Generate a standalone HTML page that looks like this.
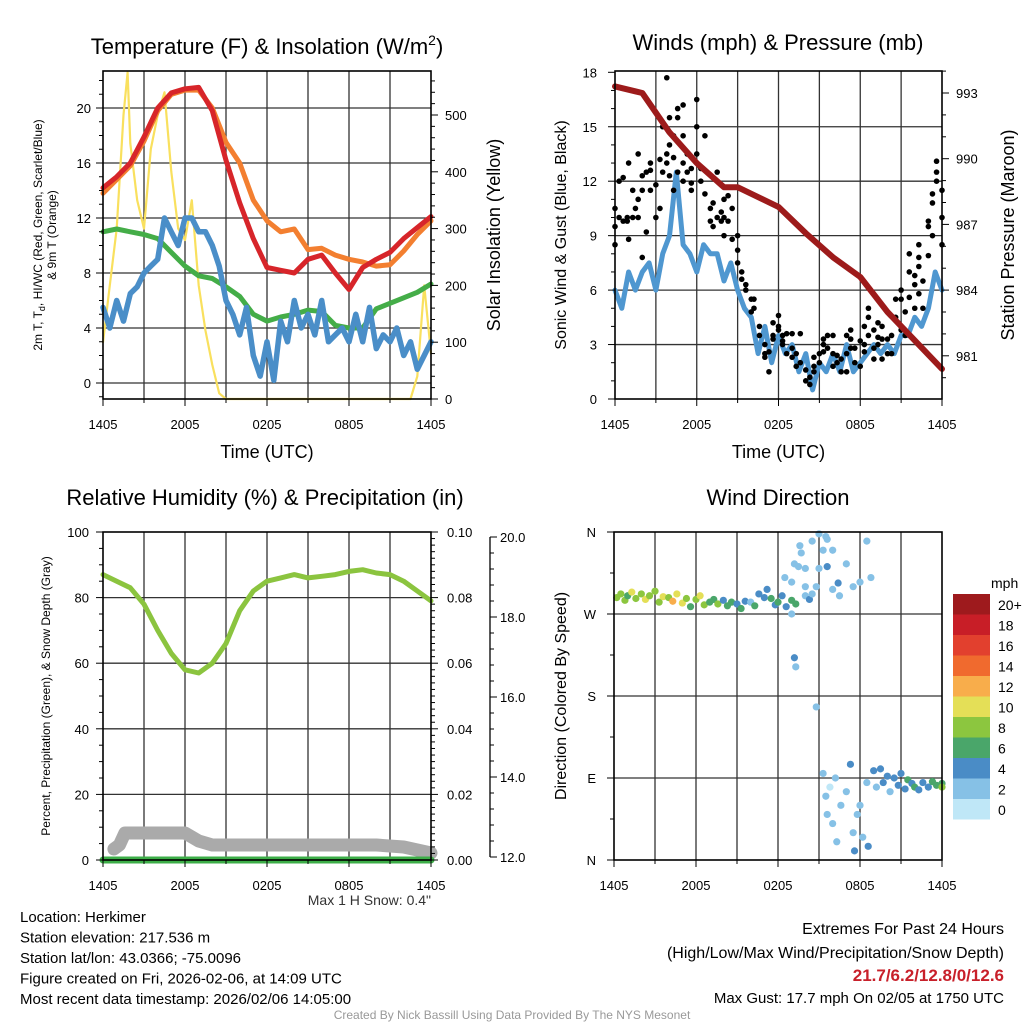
<!DOCTYPE html>
<html><head><meta charset="utf-8"><style>
body{margin:0;background:#fff}
svg text{font-family:"Liberation Sans",sans-serif;fill:#000}
</style></head><body>
<svg id="s" width="1024" height="1024" viewBox="0 0 1024 1024" xmlns="http://www.w3.org/2000/svg"></svg>
<script>
// ---------- DATA ----------
const hrs = [0,1,2,3,4,5,6,7,8,9,10,11,12,13,14,15,16,17,18,19,20,21,22,23,24];
const tempRed = [14.2,15,16,17.9,20,21.1,21.4,21.5,19.8,16.2,13.1,10.5,8.4,8.2,8,9,9.3,8,6.8,8.4,9,9.5,10.5,11.3,12.1];
const tempOrange = [13.8,14.8,15.8,17.6,19.8,21,21.3,21.3,20,17.5,16,13.3,11.8,11,11.2,9.7,9.8,9.3,9,8.8,8.5,8.6,9.6,10.8,11.8];
const tempGreen = [11,11.2,11,10.8,10.5,9.5,8.5,7.8,7.6,7,6.3,5,4.5,4.8,5,5.3,5.2,4.2,4,4,5.4,5.8,6.2,6.6,7.2];
const halfHrs = [0,0.5,1,1.5,2,2.5,3,3.5,4,4.5,5,5.5,6,6.5,7,7.5,8,8.5,9,9.5,10,10.5,11,11.5,12,12.5,13,13.5,14,14.5,15,15.5,16,16.5,17,17.5,18,18.5,19,19.5,20,20.5,21,21.5,22,22.5,23,23.5,24];
const tempBlue = [5.5,4,6,4.5,6.5,7,8,8.5,9,12,11,10,12,12,11,11,10,8.5,6,5,3.5,5.5,2,0.5,3,0.2,4.5,3,6,4,5,3.5,6,3,3.5,4,3,5,3,5.5,2.5,3.5,3,4,2,3,1,2,3];
const solarT = [0,0.5,1,1.5,1.8,2,2.5,3,3.5,4,4.5,5,5.5,6,6.5,7,7.5,8,8.5,9,22.5,23,23.5,24];
const solarV = [100,200,300,500,575,450,350,300,440,500,540,400,300,280,350,200,120,60,10,0,0,40,200,80];
const pressHrs = [0,2,4,6,8,9,12,14,16,18,20,22,24];
const pressure = [993.3,993,991.2,989.8,988.7,988.7,987.8,986.6,985.5,984.6,983,981.7,980.4];
const windV = [6,5,7,6,7,7.5,6,8,9,12.5,8.5,8,7,8.5,8,8,6.5,7.5,6,5,4.5,2.5,4,2,3.5,2.5,3,1.5,2.5,0.5,2,1.5,2.5,1.5,3,1.5,2,2.5,3,2.5,3,2.5,3.5,3.5,4.5,4,5,7,6];
const gustT = [0,0,0,0.3,0.3,0.6,0.6,0.9,0.9,1,1,1.3,1.3,1.5,1.7,1.7,1.7,2,2,2,2.3,2.3,2.6,2.6,2.6,3,3,3.3,3.3,3.5,3.5,3.8,3.8,3.8,4,4,4,4.3,4.3,4.3,4.6,4.6,4.6,5,5,5,5,5.3,5.3,5.6,5.6,5.6,6,6,6,6.3,6.3,6.6,6.6,7,7,7.2,7.2,7.5,7.5,7.8,7.8,8,8,8,8.3,8.3,8.6,8.6,9,9,9,9.3,9.3,9.6,9.6,10,10,10.2,10.2,10.6,10.6,11,11,11,11.3,11.3,11.6,11.6,11.6,12,12,12,12.3,12.3,12.3,12.6,12.6,13,13,13,13.3,13.3,13.6,13.6,14,14,14.3,14.3,14.6,14.6,14.6,15,15,15.3,15.3,15.3,15.6,15.6,16,16,16,16.3,16.3,16.6,16.6,17,17,17,17.3,17.3,17.3,17.6,17.6,18,18,18.3,18.3,18.3,18.6,18.6,18.6,19,19,19,19.3,19.3,19.3,19.6,19.6,19.6,20,20,20.3,20.3,20.6,20.6,21,21,21,21.3,21.3,21.6,21.6,21.6,22,22,22,22.3,22.3,22.3,22.3,22.6,22.6,23,23,23,23.3,23.3,23.3,23.6,23.6,23.6,24,24,24];
const gustV = [8.5,9.5,10.5,10,12,9.8,12.2,10,9.8,8.8,13,11.5,10,10.5,11,13.5,10,11.5,7.8,12.3,12.5,9.2,11.5,12.6,13,10,11.8,10.5,13.2,12.5,15,13.5,13,17.7,14,15.5,12.3,13.3,11.5,14.5,15.5,12.5,16,13,14.5,12,16.2,12.5,13.5,11.5,12.7,11.9,13.5,16.5,15,12.7,12,14.5,11.3,9.8,10.5,10.8,9.5,10,12.5,9.8,10.3,9,11,10,11.2,9.8,8.8,10.5,9,8.2,7.5,7,6.6,6,6.3,5.5,4.8,5.5,5,4,3.5,2.5,3,2.3,2.6,1.5,3.5,4.2,3.3,4,4.6,3.8,3,3.5,3.2,2.5,3.6,2.3,3.6,2.8,2.5,1.8,2,3.6,1.6,1,0.8,1.2,1.5,2.3,1.8,2,2.5,2.6,3,3.3,2.8,3.5,2.5,1.8,3.5,2.4,2,1.5,2.2,3.5,2.5,1.5,2.8,3.8,3.3,2,2.8,1.8,3.2,3,4,2.6,5,3.5,4.5,2.8,3.8,2.2,4.2,3.4,3,2.2,3.3,4,3.3,2.5,3.5,2.5,4.5,5.5,6,3.8,5.5,4.8,3.5,7,5.6,8,6.3,5,6.8,7.8,8.5,5.8,7.3,6.5,5,9.5,7.9,9.8,9,11.3,10.8,12.5,13.1,12,10,8.5,11.5];
const rhV = [87,85,83,78,70,63,58,57,60,66,76,82,85,86,87,86,86.5,87,88,88.5,87.5,87,85,82,79];
const snowT = [0.8,1.2,1.6,2,6,7,8,12,16,20,22,24];
const snowV = [12.2,12.3,12.6,12.6,12.6,12.4,12.3,12.3,12.3,12.3,12.25,12.1];
const precipV = [0,0];
const wdT = [0.2,0.5,0.8,1,1.3,1.6,2,2.3,2.6,3,3.3,3.6,4,4.3,4.6,5,5.3,5.6,6,6.3,6.6,7,7.3,7.6,8,8.3,8.6,9,9.3,9.6,10,10.3,10.6,11,11.2,11.5,11.8,12,12.3,12.6,13,13.3,13,13.5,13.7,14,14,14.3,13.2,13.3,14.5,15,15.3,15.6,15.6,16,16.4,12.5,13,13.2,13.6,14,14.5,14.8,15,15.5,16,16.5,17,17.5,18,18.5,18.8,15.3,15.5,15.6,15.8,16,16.2,16.3,16.6,17,17.3,17.5,17.6,17.8,18,18.2,18.5,18.6,19,19.2,19.5,19.7,20,20.2,20.5,20.8,21,21.3,21.5,21.8,22,22.3,22.6,23,23.3,23.6,24,24,14.8];
const wdDir = [288,292,285,290,294,287,292,286,290,295,283,289,288,284,292,282,287,278,286,290,280,283,286,281,285,279,283,281,276,284,283,279,292,288,297,287,280,283,290,278,285,281,270,322,337,300,290,286,222,212,350,358,340,352,322,297,304,310,305,325,345,320,292,300,320,355,340,290,325,300,305,350,310,95,70,50,80,40,90,20,60,75,105,30,10,50,60,25,85,15,98,80,100,85,92,75,90,82,95,78,88,84,80,77,85,80,86,82,84,80,168];
const wdSpd = [8,7,8,6,9,8,8,10,7,8,7,9,8,11,9,10,8,6,7,9,8,6,5,7,4,5,6,4,5,3,2,5,4,3,4,5,4,5,3,4,5,5,2,1,2,1,2,3,3,2,1,2,1,1,3,2,3,1,2,1,1,2,2,1,1,2,1,2,1,1,2,1,2,1,2,1,0,2,1,1,2,1,3,2,3,2,1,1,2,3,3,2,4,3,4,2,4,3,4,4,5,4,5,3,4,4,5,6,5,7,1];
const speedLabels = ["0","2","4","6","8","10","12","14","16","18","20+"];
const speedColors = ["#bfe7f7","#86c1e6","#4a8cc6","#4aa66a","#8cc63f","#e4df57","#f8ad4b","#f06a2e","#e2402e","#c81e27","#9e1a1d"];

// ---------- HELPERS ----------
const S = document.getElementById('s');
const NS = 'http://www.w3.org/2000/svg';
function mk(tag, attrs, parent){const e=document.createElementNS(NS,tag);for(const k in attrs)e.setAttribute(k,attrs[k]);(parent||S).appendChild(e);return e;}
function txt(x,y,s,size,anchor,extra){const e=mk('text',Object.assign({x:x,y:y,'font-size':size,'text-anchor':anchor||'start'},extra||{}));e.textContent=s;return e;}
function poly(xs,ys,fx,fy,color,w){const pts=xs.map((t,i)=>fx(t).toFixed(1)+','+fy(ys[i]).toFixed(1)).join(' ');return mk('polyline',{points:pts,fill:'none',stroke:color,'stroke-width':w,'stroke-linejoin':'round','stroke-linecap':'round'});}
function grid(L,T,R,B,ys){
  for(let k=1;k<8;k++){const x=L+(R-L)*k/8;mk('line',{x1:x,y1:T,x2:x,y2:B,stroke:'#333','stroke-width':1.3});}
  ys.forEach(y=>mk('line',{x1:L,y1:y,x2:R,y2:y,stroke:'#333','stroke-width':1.3}));
}
function frame(L,T,R,B,name){const r=mk('rect',{x:L,y:T,width:R-L,height:B-T,fill:'none',stroke:'#000','stroke-width':1.6});}
function xaxis(L,R,B,withTitle){
  const lbl=['1405','2005','0205','0805','1405'];
  for(let k=0;k<=8;k++){const x=L+(R-L)*k/8;mk('line',{x1:x,y1:B,x2:x,y2:B+(k%2?4:7),stroke:'#000'});}
  lbl.forEach((s,i)=>{const t=txt(L+(R-L)*i/4,B+30,s,13,'middle');});
  if(withTitle){const t=txt((L+R)/2,B+59,'Time (UTC)',18,'middle');}
}
function vlabel(x,y,s,size,name){const t=txt(x,y,s,size,'middle',{transform:'rotate(-90 '+x+' '+y+')'});return t;}

// ---------- PANEL 1 ----------
{
const L=103,T=71,R=431,B=399;
const fx=t=>L+(R-L)*t/24, fy=v=>383-v*13.75, fs=w=>399-w*0.568;
grid(L,T,R,B,[0,4,8,12,16,20].map(fy));
let l;
l=poly(solarT,solarV,fx,fs,'#f9e05e',2.2);
l=poly(hrs,tempGreen,fx,fy,'#44ad48',5);
l=poly(halfHrs,tempBlue,fx,fy,'#4a8ec8',5.5);
l=poly(hrs,tempOrange,fx,fy,'#f37f30',5);
l=poly(hrs,tempRed,fx,fy,'#d7252a',5);
frame(L,T,R,B,'temperature-plot-frame');
for(let v=-1;v<=22;v++){mk('line',{x1:L-(v%4==0?7:4),y1:fy(v),x2:L,y2:fy(v),stroke:'#000'});}
[0,4,8,12,16,20].forEach(v=>{const t=txt(L-12,fy(v)+5,String(v),13,'end');});
for(let w=0;w<=560;w+=20){mk('line',{x1:R,y1:fs(w),x2:R+(w%100==0?7:4),y2:fs(w),stroke:'#000'});}
[0,100,200,300,400,500].forEach(w=>{const t=txt(R+14,fs(w)+5,String(w),13,'start');});
xaxis(L,R,B,true);
const tt=mk('text',{x:267,y:54,'font-size':22,'text-anchor':'middle'});tt.innerHTML='Temperature (F) &amp; Insolation (W/m<tspan dy="-9" font-size="14">2</tspan><tspan dy="9">)</tspan>';

const a=mk('text',{x:0,y:0,'font-size':12,'text-anchor':'middle',transform:'translate(42 235) rotate(-90)'});a.innerHTML='2m T, T<tspan dy="3" font-size="9">d</tspan><tspan dy="-3">, HI/WC (Red, Green, Scarlet/Blue)</tspan>';

const a2=txt(0,0,'& 9m T (Orange)',12,'middle',{transform:'translate(56 235) rotate(-90)'});
vlabel(500,235,'Solar Insolation (Yellow)',18,'y2-axis-title');
}

// ---------- PANEL 2 ----------
{
const L=615,T=71,R=942,B=399;
const fx=t=>L+(R-L)*t/24, fy=v=>399-v*18.15, fp=p=>93+(993-p)*21.9;
grid(L,T,R,B,[3,6,9,12,15].map(fy));
let l=poly(halfHrs,windV,fx,fy,'#4f97d0',5);
gustT.forEach((t,i)=>{const c=mk('circle',{cx:fx(t),cy:fy(gustV[i]),r:2.8,fill:'#000'});});
l=poly(pressHrs,pressure,fx,fp,'#9d1b1b',6);
frame(L,T,R,B,'winds-plot-frame');
for(let v=0;v<=18;v++){mk('line',{x1:L-(v%3==0?7:4),y1:fy(v),x2:L,y2:fy(v),stroke:'#000'});}
[0,3,6,9,12,15,18].forEach(v=>{const t=txt(L-18,fy(v)+5,String(v),13,'end');});
for(let p=980;p<=994;p++){if(fp(p)<T||fp(p)>B)continue;mk('line',{x1:R,y1:fp(p),x2:R+(p%3==0?7:4),y2:fp(p),stroke:'#000'});}
[981,984,987,990,993].forEach(p=>{const t=txt(R+14,fp(p)+5,String(p),13,'start');});
xaxis(L,R,B,true);
const tt=txt(778,50,'Winds (mph) & Pressure (mb)',22,'middle');
vlabel(566,235,'Sonic Wind & Gust (Blue, Black)',16,'y-axis-title');
vlabel(1014,235,'Station Pressure (Maroon)',18,'y2-axis-title');
}

// ---------- PANEL 3 ----------
{
const L=103,T=532,R=431,B=860;
const fx=t=>L+(R-L)*t/24, fy=v=>B-v*3.28, fsn=d=>857-(d-12)*40;
grid(L,T,R,B,[20,40,60,80].map(fy));
let l=poly(snowT,snowV,fx,fsn,'#aaaaaa',13);
l=poly([0,24],precipV,fx,v=>B-v*3280,'#3dae48',7);
l=poly(hrs,rhV,fx,fy,'#8bc43f',5);
frame(L,T,R,B,'humidity-plot-frame');
for(let v=0;v<=100;v+=5){mk('line',{x1:L-(v%20==0?7:4),y1:fy(v),x2:L,y2:fy(v),stroke:'#000'});}
[0,20,40,60,80,100].forEach(v=>{const t=txt(L-14,fy(v)+5,String(v),13,'end');});
for(let k=0;k<=50;k++){const y=B-k*6.56;mk('line',{x1:R,y1:y,x2:R+(k%10==0?7:4),y2:y,stroke:'#000'});}
['0.00','0.02','0.04','0.06','0.08','0.10'].forEach((s,i)=>{const t=txt(R+16,fy(i*20)+5,s,13,'start');});
const ax=mk('line',{x1:490,y1:fsn(20),x2:490,y2:fsn(12),stroke:'#000','stroke-width':1.3});
for(let d=12;d<=20.001;d+=0.4){mk('line',{x1:490,y1:fsn(d),x2:490+(Math.abs(d-Math.round(d/2)*2)<0.01?7:4),y2:fsn(d),stroke:'#000'});}
['12.0','14.0','16.0','18.0','20.0'].forEach((s,i)=>{const t=txt(500,fsn(12+i*2)+5,s,13,'start');});
xaxis(L,R,B,false);
const tt=txt(265,505,'Relative Humidity (%) & Precipitation (in)',22,'middle');
vlabel(50,696,'Percent, Precipitation (Green), & Snow Depth (Gray)',12,'y-axis-title');
const m=txt(431,905,'Max 1 H Snow: 0.4"',14,'end',{style:'fill:#333'});
}

// ---------- PANEL 4 ----------
{
const L=614,T=532,R=942,B=860;
const fx=t=>L+(R-L)*t/24, fy=d=>T+(360-d)/360*(B-T);
grid(L,T,R,B,[270,180,90].map(fy));
wdT.forEach((t,i)=>{const bin=Math.min(10,Math.max(0,Math.round(wdSpd[i]/2)));const c=mk('circle',{cx:fx(t),cy:fy(wdDir[i]),r:3.6,fill:speedColors[bin]});});
frame(L,T,R,B,'direction-plot-frame');
for(let d=0;d<=360;d+=45){mk('line',{x1:L-(d%90==0?7:4),y1:fy(d),x2:L,y2:fy(d),stroke:'#000'});}
[['N',360],['W',270],['S',180],['E',90],['N',0]].forEach(p=>{const t=txt(L-18,fy(p[1])+5,p[0],13,'end');});
xaxis(L,R,B,false);
const tt=txt(778,505,'Wind Direction',22,'middle');
vlabel(566,696,'Direction (Colored By Speed)',16,'y-axis-title');
const cbT=594,h=20.5;
speedColors.forEach((c,i)=>{const r=mk('rect',{x:953,y:cbT+(10-i)*h,width:37,height:h,fill:c});
 const t=txt(998,cbT+(10-i)*h+16,speedLabels[i],14,'start');});
const u=txt(991,588,'mph',14,'start');
}

// ---------- FOOTER TEXT ----------
const info=['Location: Herkimer','Station elevation: 217.536 m','Station lat/lon: 43.0366; -75.0096','Figure created on Fri, 2026-02-06, at 14:09 UTC','Most recent data timestamp: 2026/02/06 14:05:00'];
info.forEach((s,i)=>{const t=txt(20,922+i*20.5,s,15,'start');});
let e;
e=txt(1004,934,'Extremes For Past 24 Hours',16,'end');
e=txt(1004,958,'(High/Low/Max Wind/Precipitation/Snow Depth)',16,'end');
e=txt(1004,981,'21.7/6.2/12.8/0/12.6',17,'end',{'font-weight':'bold',style:'fill:#c8202a'});
e=txt(1004,1003,'Max Gust: 17.7 mph On 02/05 at 1750 UTC',15,'end');
e=txt(512,1019,'Created By Nick Bassill Using Data Provided By The NYS Mesonet',12,'middle',{style:'fill:#999'});
</script>
</body></html>
